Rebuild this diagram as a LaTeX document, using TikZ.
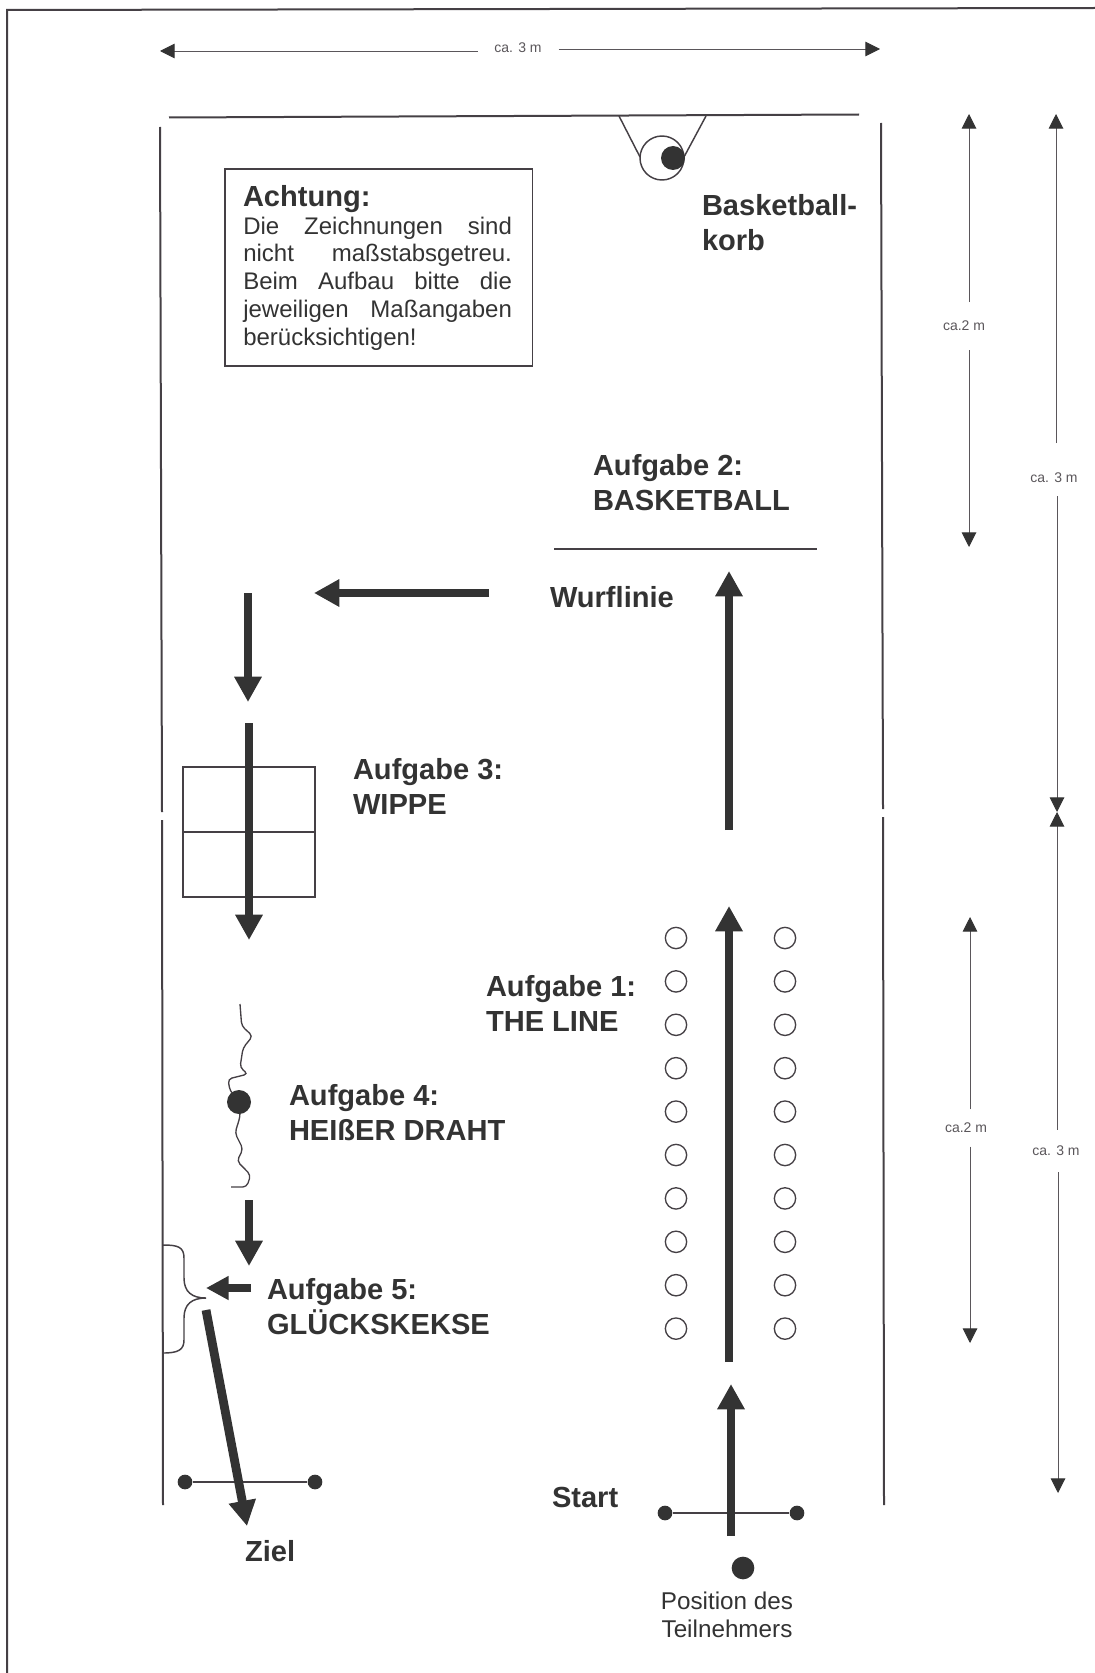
\documentclass[tikz,border=0pt]{standalone}
\usepackage{fontspec}
\setmainfont{Liberation Sans}
\usetikzlibrary{arrows.meta}
\definecolor{ink}{HTML}{333333}
\definecolor{inkline}{HTML}{454045}
\definecolor{inkthin}{HTML}{5A565A}
\tikzset{
  wall/.style={draw=inkline,line width=1.5pt},
  thinline/.style={draw=inkline,line width=1.1pt},
  dimline/.style={draw=inkthin,line width=.7pt,-{Triangle[length=11pt,width=11pt,color=ink]}},
  bigarrow/.style={draw=ink,line width=6.6pt,-{Triangle[length=19pt,width=19.5pt]}},
  lab/.style={anchor=base west,inner sep=0pt,outer sep=0pt,align=left,text=ink,font=\fontsize{21.8}{26}\selectfont\bfseries},
  smalllab/.style={inner sep=0pt,outer sep=0pt,text=inkthin,font=\fontsize{10.5}{12}\selectfont},
  ring/.style={circle,draw=inkline,line width=1pt,fill=white,minimum size=16pt,inner sep=0pt},
  bigdot/.style={circle,fill=ink,inner sep=0pt,minimum size=#1}
}
\begin{document}
\begin{tikzpicture}[x=.75pt,y=-.75pt]
\useasboundingbox (0,0) rectangle (1095,1673);
% page frame
\coordinate (fa) at (7,1673); \coordinate (fb) at (7,10); \coordinate (fc) at (1095,8);
\draw[wall] (fa) -- (fb) -- (fc);
% field walls
\coordinate (wl1) at (160,127); \coordinate (wl2) at (162,812); \coordinate (wl3) at (162,820); \coordinate (wl4) at (163,1505);
\coordinate (wr1) at (881,123); \coordinate (wr2) at (883,809); \coordinate (wr3) at (883,817); \coordinate (wr4) at (884,1505);
\coordinate (wt1) at (169,117.5); \coordinate (wt2) at (859,114.5);
\draw[wall] (wl1) -- (wl2); \draw[wall] (wl3) -- (wl4);
\draw[wall] (wr1) -- (wr2); \draw[wall] (wr3) -- (wr4);
\draw[wall] (wt1) -- (wt2);
% top dimension
\node[smalllab,minimum width=81pt*.75] (d0) at (518,48) {ca. 3 m};
\coordinate (d0l) at (160,51); \coordinate (d0r) at (880,49);
\draw[dimline] (d0.west |- d0l) -- (d0l);
\draw[dimline] (d0.east |- d0r) -- (d0r);
% basket
\coordinate (vl1) at (619,116); \coordinate (vl2) at (640,157); \coordinate (vr1) at (706,116); \coordinate (vr2) at (684,157);
\draw[thinline] (vl1) -- (vl2); \draw[thinline] (vr1) -- (vr2);
\node[circle,draw=inkline,line width=1.1pt,minimum size=33pt,inner sep=0pt] (hoop) at (662,158) {};
\node[bigdot=18pt] (ball) at (673,158) {};
\node[lab] (bk) at (702,250) {Basketball-\\korb};
% box
\node[draw=inkline,line width=1.1pt,minimum width=230.5pt,minimum height=147.5pt,inner sep=0pt] (box) at (378.75,267.5) {};
\node[lab] (ach) at (243,206) {Achtung:};
\node[anchor=base west,inner sep=0pt,align=left,text=ink,font=\fontsize{18}{20.8}\selectfont] (achbody) at (243,345)
 {\hbox to 201.5pt{Die\hfill Zeichnungen\hfill sind}\\
  \hbox to 201.5pt{nicht\hfill maßstabsgetreu.}\\
  \hbox to 201.5pt{Beim\hfill Aufbau\hfill bitte\hfill die}\\
  \hbox to 201.5pt{jeweiligen\hfill Maßangaben}\\
  berücksichtigen!};
% right dims
\coordinate (a1) at (969,114); \coordinate (a2) at (969,547);
\node[smalllab,minimum height=36pt] (d1) at (964,326) {ca.2 m};
\draw[dimline] (a1 |- d1.north) -- (a1);
\draw[dimline] (a2 |- d1.south) -- (a2);
\coordinate (b1) at (1056,114); \coordinate (b2) at (1057,812);
\node[smalllab] (d2) at (1054,478) {ca. 3 m};
\coordinate (d2t) at (1056,443); \coordinate (d2b) at (1057,496);
\draw[dimline] (d2t) -- (b1);
\draw[dimline] (d2b) -- (b2);
\coordinate (c1) at (1057,812); \coordinate (c2) at (1058,1493);
\node[smalllab,minimum height=32pt] (d3) at (1056,1151) {ca. 3 m};
\draw[dimline] (c1 |- d3.north) -- (c1);
\draw[dimline] (c2 |- d3.south) -- (c2);
\coordinate (e1) at (970,917); \coordinate (e2) at (970,1343);
\node[smalllab,minimum height=28pt] (d4) at (966,1128) {ca.2 m};
\draw[dimline] (e1 |- d4.north) -- (e1);
\draw[dimline] (e2 |- d4.south) -- (e2);
% task 2
\node[lab] (t2) at (593,510) {Aufgabe 2:\\BASKETBALL};
\coordinate (tl1) at (554,549); \coordinate (tl2) at (817,549);
\draw[thinline] (tl1) -- (tl2);
\node[lab] (wl) at (550,607) {Wurflinie};
\coordinate (u1) at (729,830); \coordinate (u2) at (729,571);
\draw[bigarrow] (u1) -- (u2);
\coordinate (l1) at (489,593); \coordinate (l2) at (314,593);
\draw[bigarrow] (l1) -- (l2);
\coordinate (s1) at (248,593); \coordinate (s2) at (248,702);
\draw[bigarrow] (s1) -- (s2);
% task 3
\node[draw=inkline,line width=1.1pt,minimum width=99pt,minimum height=97.5pt,inner sep=0pt] (wippe) at (249,832) {};
\draw[thinline] (wippe.west) -- (wippe.east);
\coordinate (w1) at (249,723); \coordinate (w2) at (249,940);
\draw[bigarrow] (w1) -- (w2);
\node[lab] (t3) at (353,814) {Aufgabe 3:\\WIPPE};
% task 1
\node[lab] (t1) at (486,1031) {Aufgabe 1:\\THE LINE};
\foreach \i in {0,...,9} {
  \node[ring] (cl\i) at (676,938+43.4*\i) {};
  \node[ring] (cr\i) at (785,938+43.4*\i) {};
}
\coordinate (m1) at (729,1362); \coordinate (m2) at (729,906);
\draw[bigarrow] (m1) -- (m2);
% start
\node[bigdot=11pt] (sa) at (665,1513) {};
\node[bigdot=11pt] (sb) at (797,1513) {};
\draw[thinline] (sa) -- (sb);
\coordinate (st1) at (731,1536); \coordinate (st2) at (731,1384);
\draw[bigarrow] (st1) -- (st2);
\node[lab] (st) at (552,1507) {Start};
\node[bigdot=17pt] (pos) at (743,1568) {};
\node[anchor=base,inner sep=0pt,align=center,text=ink,font=\fontsize{18.2}{21}\selectfont] (post) at (727,1637) {Position des\\Teilnehmers};
% task 4
\draw[draw=inkline,line width=1pt,rounded corners=3pt] (240,1004) -- (241.7,1026) -- (252.7,1036) -- (243,1048) -- (240,1067.5) -- (248,1074) -- (228,1079) -- (230,1091) -- (240,1101) -- (240,1117) -- (235,1133) -- (243,1149) -- (237,1161) -- (250.7,1175) -- (246.7,1187) -- (231,1187);
\node[bigdot=18pt] (wb) at (239,1102) {};
\node[lab] (t4) at (289,1140) {Aufgabe 4:\\HEIßER DRAHT};
\coordinate (h1) at (249,1200); \coordinate (h2) at (249,1266);
\draw[bigarrow] (h1) -- (h2);
% task 5
\coordinate (k1) at (251,1288); \coordinate (k2) at (206,1288);
\draw[draw=ink,line width=6pt,-{Triangle[length=17pt,width=17pt]}] (k1) -- (k2);
\coordinate (bra) at (163,1245); \coordinate (brt) at (206,1298); \coordinate (brb) at (163,1353);
\draw[thinline] (bra) .. controls (178,1245) and (184,1247) .. (184,1258) -- (184,1278) .. controls (184,1292) and (192,1298) .. (brt) .. controls (192,1298) and (184,1304) .. (184,1318) -- (184,1340) .. controls (184,1350) and (178,1353) .. (brb);
\node[lab] (t5) at (267,1334) {Aufgabe 5:\\GLÜCKSKEKSE};
% finish
\node[bigdot=11pt] (za) at (185,1482) {};
\node[bigdot=11pt] (zb) at (315,1482) {};
\draw[thinline] (za) -- (zb);
\coordinate (z1) at (206,1310); \coordinate (z2) at (247,1526);
\draw[bigarrow] (z1) -- (z2);
\node[lab] (zl) at (245,1561) {Ziel};
\end{tikzpicture}
\end{document}
